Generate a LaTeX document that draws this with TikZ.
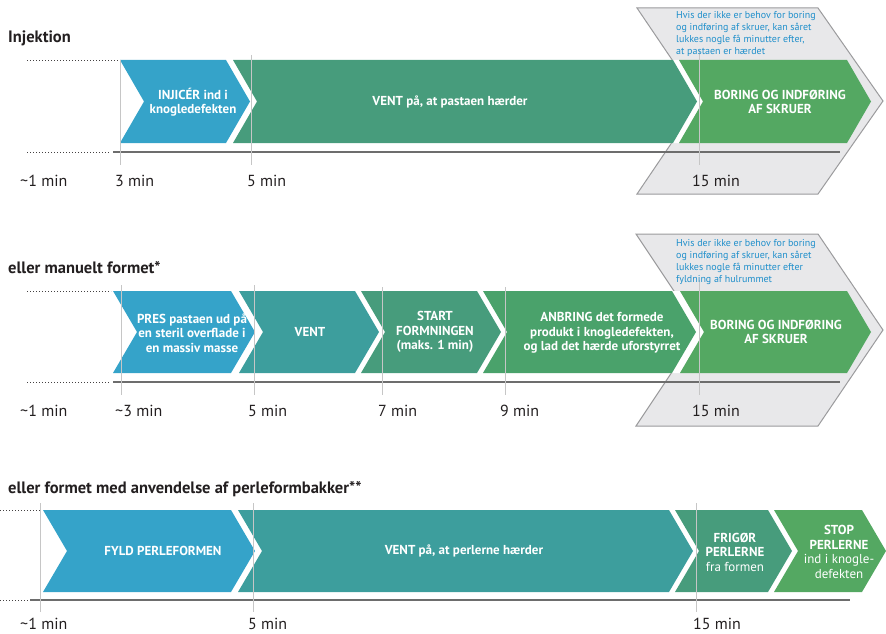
\documentclass[tikz,border=0pt]{standalone}
\usepackage{fontspec}
\usepackage{xcolor}
\setmainfont{PT Sans}
\definecolor{chevblue}{HTML}{35A3C9}
\definecolor{chevteal}{HTML}{3D9E9D}
\definecolor{chevsea}{HTML}{479C7C}
\definecolor{chevleaf}{HTML}{4AA26B}
\definecolor{chevgreen}{HTML}{54A862}
\definecolor{notegray}{HTML}{E8E8EA}
\definecolor{noteedge}{HTML}{9B9B9D}
\definecolor{noteblue}{HTML}{1F8FCB}
\definecolor{tickgray}{HTML}{C6C6C6}
\definecolor{axisgray}{HTML}{6D6D6D}
\definecolor{textdark}{HTML}{231F20}

\begin{document}
\begin{tikzpicture}[x=1pt, y=-1pt,
  rowtitle/.style={anchor=base west, inner sep=0, text=textdark, font=\bfseries\fontsize{16.5}{19}\selectfont},
  steptext/.style={inner sep=0, align=center, text=white, font=\bfseries\fontsize{13}{14.5}\selectfont},
  timelabel/.style={anchor=base west, inner sep=0, text=textdark, font=\fontsize{16}{18}\selectfont},
  notetext/.style={anchor=north west, inner sep=0, align=left, text=noteblue, font=\fontsize{10}{12}\selectfont},
  notebox/.style={fill=notegray, draw=noteedge, line width=1},
  tickline/.style={tickgray, line width=1},
  guideline/.style={textdark!85, dotted, line width=1},
  timeaxis/.style={axisgray, line width=1.2}]
\useasboundingbox (0,0) rectangle (886,634);

% Injektion
\node[rowtitle] (titleone) at (8,43) {Injektion};
\draw[notebox] (637,8) -- (818,8) -- (883,101) -- (818,194) -- (637,194) -- (700,101) -- cycle;
\fill[white] (640,60) -- (679,60) -- (703,101.5) -- (679,143) -- (640,143) -- cycle;
\fill[chevblue] (120,60) -- (226,60) -- (250,101.5) -- (226,143) -- (120,143) -- (144,101.5) -- cycle;
\fill[chevsea] (233,60) -- (673,60) -- (697,101.5) -- (673,143) -- (233,143) -- (257,101.5) -- cycle;
\fill[chevgreen] (679,60) -- (847,60) -- (871,101.5) -- (847,143) -- (679,143) -- (703,101.5) -- cycle;
\draw[guideline] (27,61) -- (118,61);
\draw[guideline] (27,152) -- (110,152);
\draw[timeaxis] (113,152) -- (840,152);
\draw[tickline] (120,60) -- (120,165);
\draw[tickline] (251,55) -- (251,165);
\draw[tickline] (699,50) -- (699,165);
\node[steptext] (inject) at (193,102) {INJICÉR ind i\\knogledefekten};
\node[steptext] (waitone) at (450,102) {VENT på, at pastaen hærder};
\node[steptext] (drillone) at (780,102) {BORING OG INDFØRING\\AF SKRUER};
\node[notetext] (noteone) at (676,11) {Hvis der ikke er behov for boring\\og indføring af skruer, kan såret\\lukkes nogle få minutter efter,\\at pastaen er hærdet};
\node[timelabel] (oneA) at (20,186) {\textasciitilde1 min};
\node[timelabel] (oneB) at (115,186) {3 min};
\node[timelabel] (oneC) at (247,186) {5 min};
\node[timelabel] (oneD) at (692,186) {15 min};

% eller manuelt formet
\node[rowtitle] (titletwo) at (8,273) {eller manuelt formet*};
\draw[notebox] (636,234) -- (818,234) -- (883,330) -- (818,426) -- (636,426) -- (700,330) -- cycle;
\fill[white] (640,291) -- (680,291) -- (704,332) -- (680,373) -- (640,373) -- cycle;
\fill[chevblue] (113,291) -- (231,291) -- (255,332) -- (231,373) -- (113,373) -- (137,332) -- cycle;
\fill[chevteal] (239,291) -- (355,291) -- (379,332) -- (355,373) -- (239,373) -- (263,332) -- cycle;
\fill[chevsea] (361,291) -- (477,291) -- (501,332) -- (477,373) -- (361,373) -- (385,332) -- cycle;
\fill[chevleaf] (483,291) -- (672,291) -- (696,332) -- (672,373) -- (483,373) -- (507,332) -- cycle;
\fill[chevgreen] (680,291) -- (847,291) -- (871,332) -- (847,373) -- (680,373) -- (704,332) -- cycle;
\draw[guideline] (27,291) -- (111,291);
\draw[guideline] (27,382) -- (110,382);
\draw[timeaxis] (113,382) -- (840,382);
\draw[tickline] (121,285) -- (121,395);
\draw[tickline] (254,285) -- (254,395);
\draw[tickline] (382,287) -- (382,395);
\draw[tickline] (505,287) -- (505,395);
\draw[tickline] (699,280) -- (699,395);
\node[steptext] (press) at (192,333) {PRES pastaen ud på\\en steril overflade i\\en massiv masse};
\node[steptext] (waittwo) at (310,332) {VENT};
\node[steptext] (shaping) at (435,332) {START\\FORMNINGEN\\(maks. 1 min)};
\node[steptext] (place) at (602,333) {ANBRING det formede\\produkt i knogledefekten,\\og lad det hærde uforstyrret};
\node[steptext] (drilltwo) at (776,332) {BORING OG INDFØRING\\AF SKRUER};
\node[notetext] (notetwo) at (676,239) {Hvis der ikke er behov for boring\\og indføring af skruer, kan såret\\lukkes nogle få minutter efter\\fyldning af hulrummet};
\node[timelabel] (twoA) at (20,416) {\textasciitilde1 min};
\node[timelabel] (twoB) at (115,416) {\textasciitilde3 min};
\node[timelabel] (twoC) at (248,416) {5 min};
\node[timelabel] (twoD) at (378,416) {7 min};
\node[timelabel] (twoE) at (500,416) {9 min};
\node[timelabel] (twoF) at (692,416) {15 min};

% eller formet med perleformbakker
\node[rowtitle] (titlethree) at (8,493) {eller formet med anvendelse af perleformbakker**};
\fill[chevblue] (43,510) -- (231,510) -- (255,551) -- (231,592) -- (43,592) -- (67,551) -- cycle;
\fill[chevteal] (238,510) -- (669,510) -- (693,551) -- (669,592) -- (238,592) -- (262,551) -- cycle;
\fill[chevsea] (675,510) -- (768,510) -- (792,551) -- (768,592) -- (675,592) -- (699,551) -- cycle;
\fill[chevgreen] (774,510) -- (862,510) -- (886,551) -- (862,592) -- (774,592) -- (798,551) -- cycle;
\draw[guideline] (0,510) -- (40,510);
\draw[guideline] (0,600) -- (30,600);
\draw[timeaxis] (30,600) -- (850,600);
\draw[tickline] (40,503) -- (40,612);
\draw[tickline] (253,503) -- (253,612);
\draw[tickline] (696,503) -- (696,612);
\node[steptext] (fillmould) at (163,551) {FYLD PERLEFORMEN};
\node[steptext] (waitthree) at (464,551) {VENT på, at perlerne hærder};
\node[steptext] (release) at (735,552) {FRIGØR\\PERLERNE\\\mdseries fra formen};
\node[steptext] (stopbeads) at (839,552) {STOP\\PERLERNE\\\mdseries ind i knogle-\\\mdseries defekten};
\node[timelabel] (threeA) at (20,629) {\textasciitilde1 min};
\node[timelabel] (threeB) at (248,629) {5 min};
\node[timelabel] (threeC) at (693,629) {15 min};
\end{tikzpicture}
\end{document}
